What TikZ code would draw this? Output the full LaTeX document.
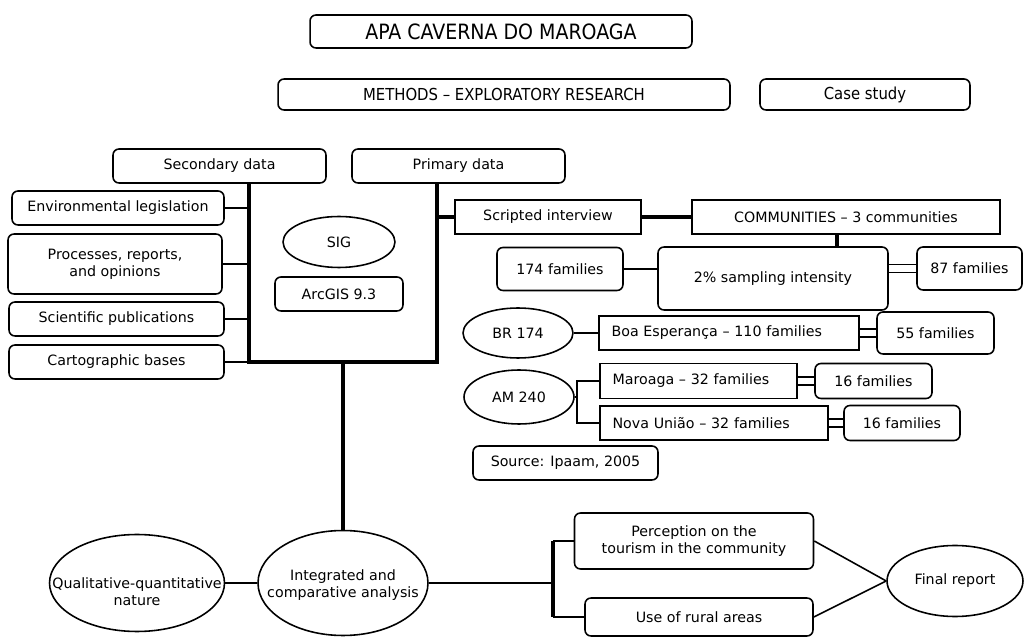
\documentclass[tikz,border=0pt]{standalone}
\usepackage{fontspec}
\setmainfont{DejaVu Sans}
\newfontfamily\condfont{DejaVu Sans Condensed}
\usepackage{tikz}
\usetikzlibrary{shapes.geometric}

% text of an ellipse, kept out of the shape's size
\newcommand{\etxt}[2][0cm]{\smash{\makebox[0pt]{\raisebox{\dimexpr-0.46em-#1\relax}{\begin{tabular}{@{}c@{}}#2\end{tabular}}}}}

\begin{document}
\begin{tikzpicture}[x=0.02cm, y=-0.02cm,
  font=\fontsize{8.1}{9.6}\selectfont,
  rb/.style={draw, line width=0.9pt, rounded corners=0.12cm, align=center, inner sep=1pt},
  sq/.style={draw, line width=0.9pt, align=center, inner sep=1pt},
  sql/.style={draw, line width=0.9pt, align=left, inner xsep=0.25cm, inner ysep=1pt},
  el/.style={ellipse, draw, line width=0.9pt, inner sep=0pt},
  hd/.style={font=\condfont\fontsize{#1}{14}\selectfont},
  thk/.style={line width=2.6pt},
  ln/.style={line width=0.9pt},
  dbl/.style={double, line width=0.8pt, double distance=0.13cm}]
  \useasboundingbox (0,0) rectangle (1025,638);

  % heading
  \node[rb, hd=12, minimum width=7.64cm, minimum height=0.66cm] (apa) at (501,31.5) {APA CAVERNA DO MAROAGA};
  \node[rb, hd=9.4, minimum width=9.04cm, minimum height=0.62cm] (methods) at (504,94.5) {METHODS – EXPLORATORY RESEARCH};
  \node[rb, hd=9.4, minimum width=4.2cm, minimum height=0.62cm] (case) at (865,94.5) {Case study};

  % data sources
  \node[rb, minimum width=4.26cm, minimum height=0.68cm] (secdata) at (219.5,166) {Secondary data};
  \node[rb, minimum width=4.26cm, minimum height=0.68cm] (primdata) at (458.5,166) {Primary data};
  \node[rb, minimum width=4.24cm, minimum height=0.68cm] (envleg) at (118,208) {Environmental legislation};
  \node[rb, minimum width=4.28cm, minimum height=1.2cm] (proc) at (115,264) {Processes, reports,\\and opinions};
  \node[rb, minimum width=4.3cm, minimum height=0.68cm] (scipub) at (116.5,319) {Scientific publications};
  \node[rb, minimum width=4.3cm, minimum height=0.68cm] (carto) at (116.5,362) {Cartographic bases};
  \node[el, minimum width=2.24cm, minimum height=1.02cm] (sig) at (339,242) {SIG};
  \node[rb, minimum width=2.56cm, minimum height=0.68cm] (arcgis) at (339,294) {ArcGIS 9.3};

  % communities
  \node[sq, minimum width=3.72cm, minimum height=0.68cm] (script) at (548,217) {Scripted interview};
  \node[sq, minimum width=6.16cm, minimum height=0.68cm] (comm) at (846,217) {COMMUNITIES – 3 communities};
  \node[rb, minimum width=2.52cm, minimum height=0.86cm] (f174) at (560,269) {174 families};
  \node[rb, minimum width=4.6cm, minimum height=1.26cm] (samp) at (773,278.5) {2\% sampling intensity};
  \node[rb, minimum width=2.1cm, minimum height=0.86cm] (f87) at (969.5,268.5) {87 families};
  \node[el, minimum width=2.2cm, minimum height=1cm] (br174) at (518,333) {BR 174};
  \node[sql, text width=4.7cm, minimum height=0.68cm] (boa) at (729,333) {Boa Esperança – 110 families};
  \node[rb, minimum width=2.34cm, minimum height=0.84cm] (f55) at (935.5,333) {55 families};
  \node[el, minimum width=2.2cm, minimum height=1.08cm] (am240) at (519,397) {AM 240};
  \node[sql, text width=3.44cm, minimum height=0.7cm] (maroaga) at (698.5,381) {Maroaga – 32 families};
  \node[rb, minimum width=2.34cm, minimum height=0.7cm] (f16a) at (873.5,381) {16 families};
  \node[sql, text width=4.06cm, minimum height=0.68cm] (nova) at (714,423) {Nova União – 32 families};
  \node[rb, minimum width=2.32cm, minimum height=0.7cm] (f16b) at (902,423) {16 families};
  \node[rb, minimum width=3.7cm, minimum height=0.68cm] (src) at (565.5,463) {Source: Ipaam, 2005};

  % analysis
  \node[el, minimum width=3.5cm, minimum height=1.94cm] (qual) at (137,583) {\etxt[0.16cm]{Qualitative-quantitative\\nature}};
  \node[el, minimum width=3.4cm, minimum height=2.1cm] (integ) at (343,583) {\etxt{Integrated and\\comparative analysis}};
  \node[rb, minimum width=4.78cm, minimum height=1.12cm] (percep) at (694,541) {Perception on the\\tourism in the community};
  \node[rb, minimum width=4.56cm, minimum height=0.76cm] (rural) at (699,617) {Use of rural areas};
  \node[el, minimum width=2.72cm, minimum height=1.42cm] (final) at (955,581) {Final report};

  \coordinate (sl) at (249,362);
  \coordinate (sr) at (437,362);
  \coordinate (stem) at (343,362);
  \coordinate (cv) at (837,0);
  \coordinate (av) at (577,0);
  \coordinate (pv) at (553,0);

  \draw[thk] (secdata.south -| sl) -- (sl) -- (sr) -- (primdata.south -| sr);
  \foreach \n in {envleg,proc,scipub,carto}
    \draw[ln] (\n.east) -- (\n.east -| sl);
  \draw[thk] (stem) -- (integ.north);
  \draw[thk] (script.west -| sr) -- (script.west);
  \draw[thk] (script) -- (comm);
  \draw[thk] (comm.south -| cv) -- (samp.north -| cv);
  \draw[ln] (f174.east) -- (f174.east -| samp.west);
  \draw[dbl] (samp.east |- f87) -- (f87.west);
  \draw[ln] (br174) -- (boa);
  \draw[dbl] (boa) -- (f55);
  \draw[ln] (am240.east) -- (am240.east -| av);
  \draw[ln] (maroaga.west) -- (maroaga.west -| av) -- (nova.west -| av) -- (nova.west);
  \draw[dbl] (maroaga.east) -- (maroaga.east -| f16a.west);
  \draw[dbl] (nova.east) -- (nova.east -| f16b.west);
  \draw[ln] (qual) -- (integ);
  \draw[ln] (integ.east) -- (integ.east -| pv);
  \draw[thk] (percep.west -| pv) -- (rural.west -| pv);
  \draw[ln] (percep.west -| pv) -- (percep.west);
  \draw[ln] (rural.west -| pv) -- (rural.west);
  \draw[ln] (percep.east) -- (final.west);
  \draw[ln] (rural.east) -- (final.west);
\end{tikzpicture}
\end{document}
